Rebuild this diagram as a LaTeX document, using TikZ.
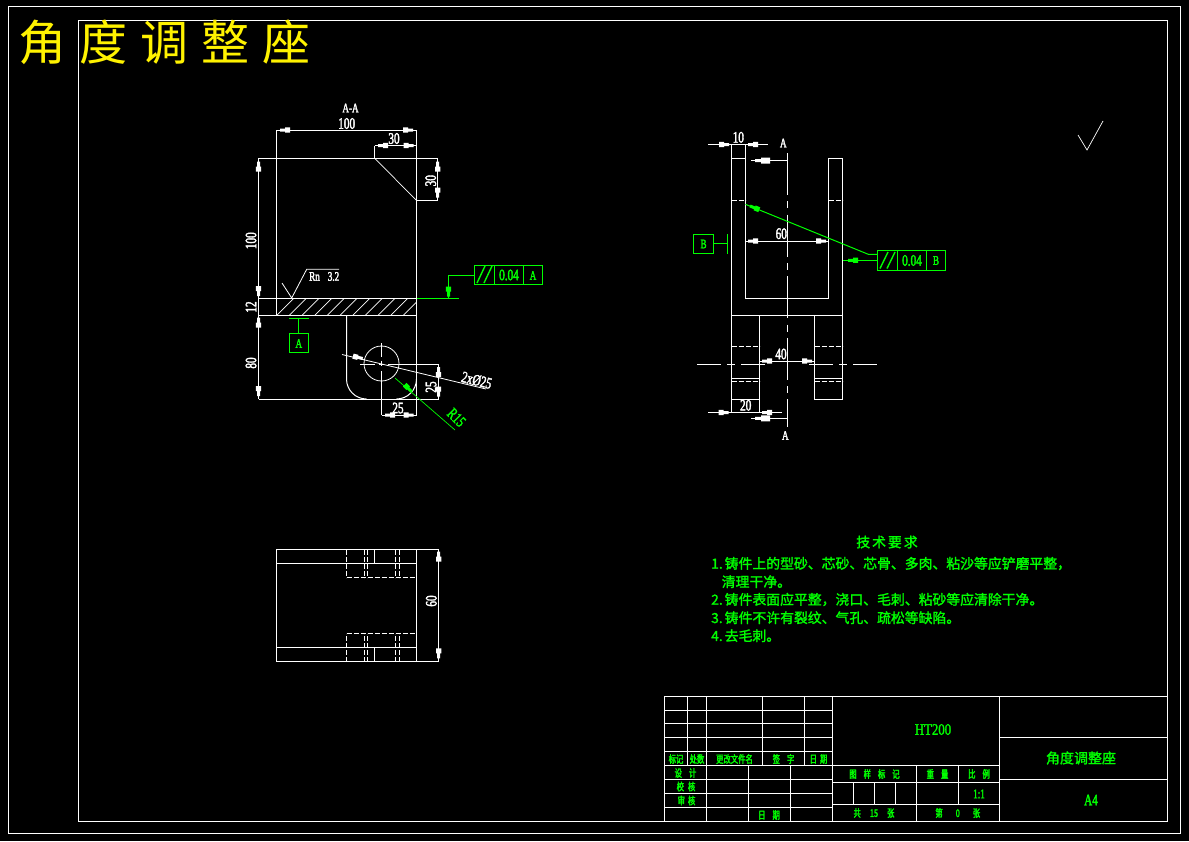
\documentclass[tikz,border=0pt]{standalone}
\usepackage{fontspec}
\setmainfont{Liberation Serif}
\newfontfamily\cjk{Noto Sans CJK SC}
\newfontfamily\digf[FakeStretch=0.7,FakeBold=2.2]{Liberation Serif}
\newfontfamily\wdigf[FakeStretch=0.8,FakeBold=1.5]{Liberation Serif}
\newfontfamily\cjkb[FakeBold=1.6]{Noto Sans CJK SC}
\newfontfamily\cjkn[FakeStretch=0.7,FakeBold=2.2]{Noto Sans CJK SC}
\newcommand\artip[4][white]{\fill[#1,shift={(#2,#3)},rotate=#4] (0,-1.5) rectangle (5,1.5) (5,-2.6) rectangle (10,2.6);}
\newcommand\artipb[3]{\fill[white,shift={(#1,#2)},rotate=#3] (0,-1.5) rectangle (6,1.5) (6,-3) rectangle (15,3);}
\tikzset{x=1pt,y=-1pt,
 ln/.style={white,line width=1pt},
 gl/.style={green1,line width=1pt},
 dsh/.style={white,line width=1pt,dash pattern=on 5pt off 2pt},
 ctr/.style={white,line width=1pt,dash pattern=on 42pt off 6.3pt on 7pt off 6.3pt},
 dimw/.style={white,inner sep=0,font=\digf\fontsize{16}{16}\selectfont},
 dimg/.style={green1,inner sep=0,font=\digf\fontsize{16}{16}\selectfont},
 smw/.style={white,inner sep=0,font=\digf\fontsize{13}{13}\selectfont},
 smg/.style={green1,inner sep=0,font=\digf\fontsize{13}{13}\selectfont},
 cn/.style={green1,inner sep=0,font=\cjkn\fontsize{10.5}{10.5}\selectfont},
 req/.style={green1,inner sep=0,anchor=west,font=\cjkb\fontsize{13.85}{13.85}\selectfont}}
\definecolor{green1}{RGB}{0,255,0}
\begin{document}
\begin{tikzpicture}
\useasboundingbox (0,0) rectangle (1189,841);
\fill[black] (0,0) rectangle (1189,841);
% frames
\draw[ln] (8.5,6.5) rectangle (1180.5,833.5);
\draw[ln] (78.5,20.5) rectangle (1167.5,821.5);
\node[yellow,anchor=west,inner sep=0,font=\cjk\fontsize{48}{48}\selectfont] (title) at (18.5,42) {角\kern13pt度\kern13pt调\kern13pt整\kern13pt座};
% ---- main view
\draw[ln] (276.5,130) -- (276.5,315.5);
\draw[ln] (416.5,130) -- (416.5,399);
\draw[ln] (258.5,158) -- (437.7,158);
\draw[ln] (258.5,298) -- (416.5,298);
\draw[ln] (258.5,315.5) -- (416.5,315.5);
\draw[ln] (258.5,399) -- (438.5,399);
\draw[ln] (258.5,158) -- (258.5,399);
\draw[ln] (276.5,130) -- (416.5,130);
\draw[ln] (374.5,145.5) -- (416.5,145.5);
\draw[ln] (374.5,145.5) -- (374.5,158);
\draw[white,line width=.7pt] (374.5,158) -- (416.5,200.5);
\draw[ln] (416.5,200.5) -- (437.7,200.5) -- (437.7,158);
\begin{scope}
\clip (276.5,298) rectangle (416.5,315.5);
\foreach \i in {0,...,12} \draw[white,line width=.7pt] (276.5+12.67*\i,315.5) -- +(17.5,-17.5);
\end{scope}
\draw[ln] (346.5,315.5) -- (346.5,379) arc[start angle=180,end angle=270,radius=20pt];
\draw[ln] (416.5,379) arc[start angle=0,end angle=-90,radius=20pt];
\draw[white,line width=.8pt] (381.5,363.5) circle[radius=17.5pt];
\draw[ln] (381.5,343) -- (381.5,356.7);
\draw[ln] (381.5,360.7) -- (381.5,366);
\draw[ln] (381.5,371) -- (381.5,415);
\draw[ln] (360,364) -- (375,364);
\draw[ln] (379.3,364) -- (383.7,364);
\draw[ln] (388,364) -- (438.5,364) -- (438.5,399);
\draw[ln] (381.5,415) -- (416.5,415) -- (416.5,399);
\draw[white,line width=.8pt] (342,354.5) -- (486,389);
\draw[green1,line width=.7pt] (395,378) -- (455,430);
\artip{280}{130}{0}\artip{413}{130}{180}
\artip{378}{145.5}{0}\artip{413.5}{145.5}{180}
\artip{437.7}{161.5}{-90}\artip{437.7}{197.5}{90}
\artip{258.5}{161.5}{-90}\artip{258.5}{296}{90}
\artip{258.5}{317.7}{-90}\artip{258.5}{396}{90}
\artip{385}{415}{0}\artip{413.5}{415}{180}
\artip{438.5}{367}{-90}\artip{438.5}{396.5}{90}
\artip{362.7}{358.5}{166.5}
\artip[green1]{411.7}{391.7}{135}
\node[smw] (aa) at (350.5,108) {A-A};
\node[dimw] (d100a) at (346.7,123.5) {100};
\node[dimw] (d30a) at (394,138.5) {30};
\node[dimw,rotate=90] (d30b) at (430.7,180.7) {30};
\node[dimw,rotate=90] (d100b) at (251,240.7) {100};
\node[dimw,rotate=90] (d12) at (251,307) {12};
\node[dimw,rotate=90] (d80) at (251,363) {80};
\node[dimw] (d25a) at (398,408) {25};
\node[dimw,rotate=90] (d25b) at (431,387) {25};
\node[dimw,rotate=-14] (d2x) at (476.7,380.3) {2xØ25};
\node[dimg,rotate=-45] (r15) at (456.5,417.5) {R15};
\draw[white,line width=.8pt] (282,283) -- (291.7,298) -- (306.7,269.3) -- (339,269.3);
\node[smw,anchor=west] (rz) at (309,276.5) {Rn\kern8pt 3.2};
% FCS A
\draw[gl] (474.5,265) rectangle (542.7,284.5);
\draw[gl] (494.5,265) -- (494.5,284.5);
\draw[gl] (523,265) -- (523,284.5);
\draw[gl,line width=1.4pt] (477,283) -- (485,266) (484,283) -- (492,266);
\node[dimg] (fa1) at (509,275) {0.04};
\node[smg] (fa2) at (533,275.5) {A};
\draw[gl] (474.5,275.5) -- (448.5,275.5) -- (448.5,298);
\draw[gl] (416.5,298) -- (458.7,298);
\artip[green1]{448.5}{296.5}{90}
% Datum A
\draw[gl] (289,333.5) rectangle (308.7,352.7);
\draw[gl] (298.5,333.5) -- (298.5,318.5);
\draw[gl] (289,318.5) -- (308.7,318.5);
\node[smg] (da) at (298.8,343.5) {A};
% ---- right view
\draw[ln] (731.5,144.5) -- (731.5,412.5);
\draw[ln] (745.5,144.5) -- (745.5,298.5) -- (828.5,298.5) -- (828.5,158.5) -- (842.5,158.5) -- (842.5,399.5) -- (814.5,399.5) -- (814.5,315.5);
\draw[ln] (731.5,158.5) -- (745.5,158.5);
\draw[ln] (731.5,315.5) -- (842.5,315.5);
\draw[ln] (759.5,315.5) -- (759.5,412.5);
\draw[ln] (731.5,399.5) -- (759.5,399.5);
\draw[ln] (731.5,378.5) -- (759.5,378.5) (814.5,378.5) -- (842.5,378.5);
\draw[dsh] (731.5,200.5) -- (745.5,200.5);
\draw[dsh] (828.5,200.5) -- (842.5,200.5);
\draw[dsh] (731.5,346.5) -- (759.5,346.5);
\draw[dsh] (814.5,346.5) -- (842.5,346.5);
\draw[dsh] (731.5,381.5) -- (759.5,381.5);
\draw[dsh] (814.5,381.5) -- (842.5,381.5);
\draw[ctr] (787.5,153) -- (787.5,426.7);
\draw[white,line width=1pt,dash pattern=on 24pt off 6pt on 8pt off 6pt] (697,364.5) -- (765,364.5);
\draw[white,line width=1pt,dash pattern=on 24pt off 6pt on 8pt off 6pt] (809,364.5) -- (878,364.5);
\draw[ln] (708,144.5) -- (768,144.5);
\draw[ln] (708,412.5) -- (782,412.5);
\draw[ln] (745.5,241) -- (828.5,241);
\draw[ln] (759.5,361) -- (814.5,361);
\draw[ln] (751,160.5) -- (787.5,160.5);
\draw[ln] (751,418.3) -- (787.5,418.3);
\artip{729}{144.5}{180}\artip{748}{144.5}{0}
\artip{748}{241}{0}\artip{826}{241}{180}
\artip{762}{361}{0}\artip{812}{361}{180}
\artip{728.7}{412.5}{180}\artip{762}{412.5}{0}
\artipb{755}{160.5}{0}\artipb{755}{418.3}{0}
\node[dimw] (d10) at (738.3,137.3) {10};
\node[smw] (a1) at (783.3,143) {A};
\node[dimw] (d60) at (781.3,233.7) {60};
\node[dimw] (d40) at (781,354) {40};
\node[dimw] (d20) at (745.7,405.3) {20};
\node[smw] (a2) at (785.3,435.5) {A};
% FCS B
\draw[gl] (877.5,250.5) rectangle (945.7,270.7);
\draw[gl] (897.3,250.5) -- (897.3,270.7);
\draw[gl] (926.3,250.5) -- (926.3,270.7);
\draw[gl,line width=1.4pt] (880,268.5) -- (888,252) (887,268.5) -- (895,252);
\node[dimg] (fb1) at (912,260.5) {0.04};
\node[smg] (fb2) at (936,260.5) {B};
\draw[gl] (745.5,204.3) -- (868.3,254.3) -- (877.5,254.3);
\draw[gl] (842.5,260.3) -- (877.5,260.3);
\artip[green1]{750}{206}{-22}
\artip[green1]{848}{260.3}{0}
% Datum B
\draw[gl] (693,234.3) rectangle (713.7,253.7);
\draw[gl] (713.7,243.3) -- (727.3,243.3);
\draw[gl] (727.3,234.3) -- (727.3,253.7);
\node[smg] (db) at (703.5,244) {B};
% roughness tick
\draw[white,line width=.7pt] (1078,135) -- (1087,150) -- (1103,121);
% ---- bottom view
\draw[ln] (276.5,549.5) rectangle (416.5,661.5);
\draw[ln] (276.5,563.5) -- (416.5,563.5);
\draw[ln] (276.5,647.5) -- (416.5,647.5);
\draw[ln] (416.5,549.5) -- (438.7,549.5) -- (438.7,661.5) -- (416.5,661.5);
\draw[ln] (374.3,549.5) -- (374.3,563.5);
\draw[ln] (374.3,647.5) -- (374.3,661.5);
\foreach \x in {346.7,364.3,367.3,395.3,399.3}{
 \draw[dsh] (\x,549.5) -- (\x,577.5);
 \draw[dsh] (\x,661.5) -- (\x,633.5);}
\draw[dsh] (346.7,577.5) -- (416.5,577.5);
\draw[dsh] (346.7,633.5) -- (416.5,633.5);
\artip{438.7}{551.7}{-90}\artip{438.7}{658.3}{90}
\node[dimw,rotate=90] (d60b) at (431.3,601) {60};
% ---- requirements
\node[green1,inner sep=0,font=\cjkb\fontsize{13.85}{13.85}\selectfont] (rt) at (887,542) {技\kern2pt术\kern2pt要\kern2pt求};
\node[req] (r1) at (711,563.5) {1.\kern2pt铸件上的型砂、芯砂、芯骨、多肉、粘沙等应铲磨平整，};
\node[req] (r1b) at (721.6,581.7) {清理干净。};
\node[req] (r2) at (711,599.5) {2.\kern2pt铸件表面应平整，浇口、毛刺、粘砂等应清除干净。};
\node[req] (r3) at (711,617.7) {3.\kern2pt铸件不许有裂纹、气孔、疏松等缺陷。};
\node[req] (r4) at (711,635.7) {4.\kern2pt去毛刺。};
% ---- title block
\draw[ln] (664.5,696.5) rectangle (1167.5,821.5);
\draw[ln] (832.5,696.5) -- (832.5,821.5);
\draw[ln] (999.5,696.5) -- (999.5,821.5);
\foreach \y in {710.5,723.5,737.5,751.5,765.5,779.5,793.5,807.5}
 \draw[ln] (664.5,\y) -- (832.5,\y);
\foreach \x in {687.5,762.5,804.5} \draw[ln] (\x,696.5) -- (\x,765.5);
\draw[ln] (706.5,696.5) -- (706.5,821.5);
\draw[ln] (748.5,765.5) -- (748.5,821.5);
\draw[ln] (790.5,765.5) -- (790.5,821.5);
\draw[ln] (832.5,765.5) -- (999.5,765.5);
\draw[ln] (832.5,782.5) -- (999.5,782.5);
\draw[ln] (832.5,804.5) -- (999.5,804.5);
\draw[ln] (916.5,765.5) -- (916.5,821.5);
\draw[ln] (958.5,765.5) -- (958.5,804.5);
\foreach \x in {853.3,874.3,895.3} \draw[ln] (\x,782.5) -- (\x,804.5);
\draw[ln] (999.5,737.5) -- (1167.5,737.5);
\draw[ln] (999.5,779.5) -- (1167.5,779.5);
\node[green1,inner sep=0,font=\wdigf\fontsize{16}{16}\selectfont] (ht) at (933,729.5) {HT200};
\node[green1,inner sep=0,font=\cjkb\fontsize{14}{14}\selectfont] (nm) at (1081,758) {角度调整座};
\node[dimg] (a4) at (1091,800) {A4};
\node[cn] (t1) at (676,759) {标记};
\node[cn] (t2) at (697,759) {处数};
\node[cn] (t3) at (734.5,759) {更改文件名};
\node[cn] (t4) at (783.5,759) {签\kern7pt字};
\node[cn] (t5) at (818.5,759) {日\kern3pt期};
\node[cn] (t6) at (685.5,773) {设\kern7pt计};
\node[cn] (t7) at (686,786.5) {校\kern4pt核};
\node[cn] (t8) at (686.5,800.5) {审\kern3pt核};
\node[cn] (t9) at (769,815) {日\kern7pt期};
\node[cn] (t10) at (874.5,774) {图\kern7pt样\kern7pt标\kern7pt记};
\node[cn] (t11) at (937.5,774) {重\kern7pt量};
\node[cn] (t12) at (979,774) {比\kern7pt例};
\node[smg] (t13) at (979,794) {1:1};
\node[cn] (t14) at (874,813) {共\kern9pt15\kern9pt张};
\node[cn] (t15) at (957.8,813) {第\kern13pt0\kern13pt张};
\end{tikzpicture}
\end{document}
